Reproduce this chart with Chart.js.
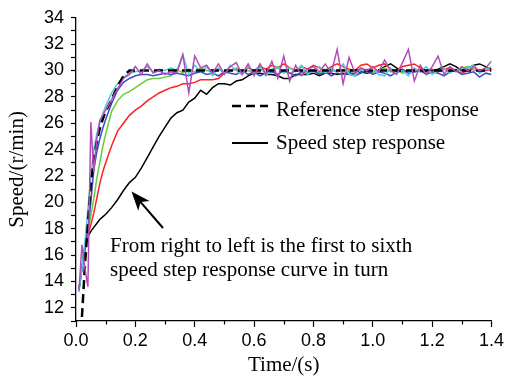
<!DOCTYPE html>
<html>
<head>
<meta charset="utf-8">
<script src="https://cdn.jsdelivr.net/npm/chart.js@4.4.1/dist/chart.umd.min.js"></script>
<style>
  html, body { margin: 0; padding: 0; background: #fff; }
</style>
</head>
<body>
<canvas id="myChart" width="507" height="380"></canvas>
<script>
// time grid (s)
var times = [0.01,0.02,0.03,0.04,0.05,0.06,0.07,0.08,0.09,0.10,
  0.12,0.14,0.16,0.18,0.20,0.22,0.24,0.26,0.28,0.30,
  0.32,0.34,0.36,0.38,0.40,0.42,0.44,0.46,0.48,0.50,
  0.52,0.54,0.56,0.58,0.60,0.62,0.64,0.66,0.68,0.70,
  0.72,0.74,0.76,0.78,0.80,0.82,0.84,0.86,0.88,0.90,
  0.92,0.94,0.96,0.98,1.00,1.02,1.04,1.06,1.08,1.10,
  1.12,1.14,1.16,1.18,1.20,1.22,1.24,1.26,1.28,1.30,
  1.32,1.34,1.36,1.38,1.40];

// reference step response (dashed)
var refSpeed = [null,11.3,15.2,18.3,21.4,23.2,24.6,25.6,26.3,26.9,
  27.8,28.8,29.6,30.0,30.0,30.0,30.0,30.0,30.0,30.0,
  30.0,30.0,30.0,30.0,30.0,30.0,30.0,30.0,30.0,30.0,
  30.0,30.0,30.0,30.0,30.0,30.0,30.0,30.0,30.0,30.0,
  30.0,30.0,30.0,30.0,30.0,30.0,30.0,30.0,30.0,30.0,
  30.0,30.0,30.0,30.0,30.0,30.0,30.0,30.0,30.0,30.0,
  30.0,30.0,30.0,30.0,30.0,30.0,30.0,30.0,30.0,30.0,
  30.0,30.0,30.0,30.0,30.0];

// speed step responses, first (slowest) to sixth
var black = [13.4,15.0,16.4,17.4,17.8,18.1,18.4,18.7,18.9,19.1,
  19.6,20.2,20.9,21.5,21.9,22.6,23.4,24.2,25.0,25.7,
  26.4,26.8,27.0,27.6,27.9,28.5,28.2,28.7,29.0,29.0,
  28.9,29.2,29.3,29.6,29.8,29.8,29.7,29.7,29.6,29.4,
  29.4,29.7,29.7,29.7,29.8,29.6,29.8,29.8,29.7,29.8,
  29.7,29.8,29.9,29.8,29.9,30.0,30.3,30.5,30.2,29.9,
  30.0,29.9,30.0,29.9,30.0,30.1,30.3,30.5,30.3,30.0,
  30.2,30.4,30.5,30.3,30.1];

var red = [13.4,15.0,16.5,17.5,18.3,19.2,20.3,21.4,22.3,23.0,
  24.3,25.4,26.0,26.6,27.0,27.3,27.7,28.0,28.3,28.5,
  28.7,28.8,29.0,29.0,29.1,29.3,29.3,29.3,29.4,29.8,
  30.0,30.1,29.9,30.2,30.0,30.3,30.1,30.4,30.2,30.5,
  30.2,30.0,30.3,30.1,30.4,30.2,30.0,30.3,30.5,30.3,
  30.1,30.0,30.4,30.5,30.2,30.4,30.5,30.1,30.0,30.3,
  30.4,30.5,30.2,30.0,30.1,29.9,30.1,30.2,30.0,29.8,
  30.0,30.1,29.9,30.0,30.1];

var green = [13.4,15.0,16.6,17.8,19.0,20.3,21.8,23.0,24.2,25.2,
  26.9,27.7,28.2,28.4,28.7,29.0,29.3,29.4,29.4,29.5,
  29.6,30.1,29.8,30.1,29.9,30.2,30.0,29.9,30.1,29.8,
  30.0,30.2,29.9,30.0,29.8,30.1,29.9,30.0,30.2,29.9,
  29.8,30.0,30.1,29.9,30.0,29.8,30.1,30.0,29.9,30.1,
  30.0,29.8,30.0,30.1,29.9,30.0,30.2,29.9,30.0,29.8,
  30.0,30.1,29.9,30.0,29.8,30.0,30.1,29.9,30.0,30.2,
  30.3,30.1,29.9,30.2,30.0];

var blue = [13.4,15.0,16.7,18.0,20.0,22.5,23.8,24.8,25.6,26.3,
  27.5,28.5,29.1,29.4,29.6,29.7,29.7,29.6,29.7,29.8,
  29.7,29.8,29.7,29.6,29.8,29.9,29.7,29.8,29.6,29.9,
  29.8,29.7,30.0,29.7,29.9,29.6,29.8,29.9,29.7,30.0,
  29.8,29.6,29.9,29.8,30.0,29.7,29.9,29.6,29.8,29.7,
  29.9,29.6,29.8,30.0,29.7,29.9,29.8,29.6,29.9,30.1,
  29.8,29.9,30.0,29.7,29.9,29.8,29.6,29.9,30.0,29.7,
  29.8,29.9,29.5,29.8,29.7];

var cyan = [13.2,15.0,17.0,19.5,22.0,24.0,25.2,26.0,26.7,27.3,
  28.3,29.0,29.5,29.8,29.9,30.0,30.3,29.9,30.1,30.0,
  30.2,30.0,31.2,29.7,30.4,29.9,30.3,29.6,30.2,29.8,
  30.4,30.0,29.7,30.3,29.9,30.4,29.6,30.1,30.3,29.8,
  30.2,29.9,30.4,29.7,30.0,30.3,29.8,30.2,29.9,30.5,
  29.7,29.6,30.1,29.9,30.3,29.7,29.6,30.2,29.8,30.0,
  29.6,30.2,29.9,30.3,29.7,30.0,30.2,29.8,30.1,29.9,
  30.2,30.4,29.8,30.1,30.3];

var magenta = [13.3,16.8,15.0,13.6,26.1,22.3,24.8,26.2,26.6,27.0,
  27.8,28.6,29.4,29.7,30.3,29.7,30.5,29.8,30.0,29.7,
  29.9,29.8,31.2,28.3,31.1,30.2,30.4,29.8,30.5,29.7,
  30.3,30.6,29.7,30.5,29.6,30.5,29.7,30.7,29.4,31.1,
  29.2,30.4,29.6,30.1,30.3,29.9,30.5,29.8,31.6,29.0,
  31.0,29.8,30.2,30.0,30.3,29.9,30.8,30.0,29.7,30.6,
  31.6,29.2,30.4,29.7,30.3,31.1,29.7,30.3,29.9,30.3,
  30.0,30.3,30.0,30.2,30.7];

var legendLabels = ["Reference step response", "Speed step response"];
var noteLines = ["From right to left is the first to sixth", "speed step response curve in turn"];

var serif = '"Liberation Serif", "Times New Roman", serif';
var sans = '"Liberation Sans", Arial, sans-serif';

function pts(vals) {
  var out = [];
  for (var i = 0; i < times.length; i++) {
    if (vals[i] !== null) out.push({x: times[i], y: vals[i]});
  }
  return out;
}

function series(vals, color, order) {
  return {
    data: pts(vals),
    borderColor: color,
    backgroundColor: color,
    borderWidth: 1.5,
    pointRadius: 0,
    fill: false,
    tension: 0,
    order: order
  };
}

var graphDataSets = [
  series(magenta, '#b34cb8', 0),
  {
    data: pts(refSpeed),
    borderColor: '#000',
    borderWidth: 2.5,
    borderDash: [9, 5],
    pointRadius: 0,
    fill: false,
    order: 1
  },
  series(cyan, '#4fcadb', 2),
  series(blue, '#3b4cc8', 3),
  series(green, '#6acb3a', 4),
  series(red, '#ff2020', 5),
  series(black, '#000000', 6)
];

// minor x ticks (0.1, 0.3, ...) are shorter than the labelled ones
var minorTicks = {
  id: 'minorTicks',
  afterDraw: function(chart) {
    var c = chart.ctx, xs = chart.scales.x, bottom = chart.chartArea.bottom;
    c.save();
    c.strokeStyle = '#000';
    c.lineWidth = 1.2;
    xs.ticks.forEach(function(t) {
      if (Math.round(t.value * 10) % 2 === 1) {
        var px = Math.round(xs.getPixelForValue(t.value)) + 0.5;
        c.beginPath();
        c.moveTo(px, bottom);
        c.lineTo(px, bottom + 3.5);
        c.stroke();
      }
    });
    c.restore();
  }
};

// legend box and the arrow note inside the plot
var notes = {
  id: 'notes',
  afterDraw: function(chart) {
    var c = chart.ctx;
    c.save();
    c.strokeStyle = '#000';
    c.fillStyle = '#000';

    c.lineWidth = 2.5;
    c.setLineDash([9, 5]);
    c.beginPath(); c.moveTo(232, 106); c.lineTo(268, 106); c.stroke();
    c.setLineDash([]);
    c.lineWidth = 2;
    c.beginPath(); c.moveTo(232, 143); c.lineTo(268, 143); c.stroke();

    c.font = '21px ' + serif;
    c.textBaseline = 'alphabetic';
    c.fillText(legendLabels[0], 276, 116);
    c.fillText(legendLabels[1], 276, 149);

    c.fillText(noteLines[0], 110, 252);
    c.fillText(noteLines[1], 110, 276);

    // arrow
    var tail = {x: 163, y: 228}, tip = {x: 131.5, y: 191.5};
    var dx = tip.x - tail.x, dy = tip.y - tail.y;
    var len = Math.sqrt(dx * dx + dy * dy);
    var ux = dx / len, uy = dy / len, nx = -uy, ny = ux;
    var hl = 19, hw = 7.5;
    c.lineWidth = 2;
    c.beginPath();
    c.moveTo(tail.x, tail.y);
    c.lineTo(tip.x - ux * 12, tip.y - uy * 12);
    c.stroke();
    c.beginPath();
    c.moveTo(tip.x, tip.y);
    c.lineTo(tip.x - ux * hl + nx * hw, tip.y - uy * hl + ny * hw);
    c.lineTo(tip.x - ux * 14, tip.y - uy * 14);
    c.lineTo(tip.x - ux * hl - nx * hw, tip.y - uy * hl - ny * hw);
    c.closePath();
    c.fill();
    c.restore();
  }
};

var ctx = document.getElementById("myChart");
var myChart = new Chart(ctx, {
  type: 'line',
  data: { datasets: graphDataSets },
  plugins: [minorTicks, notes],
  options: {
    responsive: false,
    animation: false,
    layout: { padding: { left: 0, right: 14, top: 15, bottom: 0 } },
    plugins: { legend: { display: false }, tooltip: { enabled: false } },
    scales: {
      x: {
        type: 'linear',
        min: 0,
        max: 1.4,
        afterFit: function(s) { s.height = 59; },
        border: { display: true, color: '#000', width: 1.3 },
        grid: {
          drawOnChartArea: false,
          tickLength: 6,
          tickWidth: 1.2,
          tickColor: function(c) {
            return Math.round(c.tick.value * 10) % 2 === 1 ? 'rgba(0,0,0,0)' : '#000';
          }
        },
        ticks: {
          stepSize: 0.1,
          autoSkip: false,
          maxRotation: 0,
          padding: 3,
          color: '#000',
          font: { family: sans, size: 18 },
          callback: function(v) {
            return Math.round(v * 10) % 2 === 0 ? v.toFixed(1) : '';
          }
        },
        title: {
          display: true,
          text: 'Time/(s)',
          color: '#000',
          font: { family: serif, size: 21 },
          padding: { top: 2, bottom: 2 }
        }
      },
      y: {
        min: 11,
        max: 34,
        afterFit: function(s) { s.width = 76; },
        border: { display: true, color: '#000', width: 1.3 },
        grid: { drawOnChartArea: false, tickLength: 5, tickWidth: 1.2, tickColor: '#000' },
        ticks: {
          stepSize: 1,
          autoSkip: false,
          padding: 7,
          color: '#000',
          font: { family: sans, size: 18 },
          callback: function(v) { return v % 2 === 0 ? String(v) : ''; }
        },
        title: {
          display: true,
          text: 'Speed/(r/min)',
          color: '#000',
          font: { family: serif, size: 21 },
          padding: { top: 5, bottom: 5 }
        }
      }
    }
  }
});
</script>
</body>
</html>
